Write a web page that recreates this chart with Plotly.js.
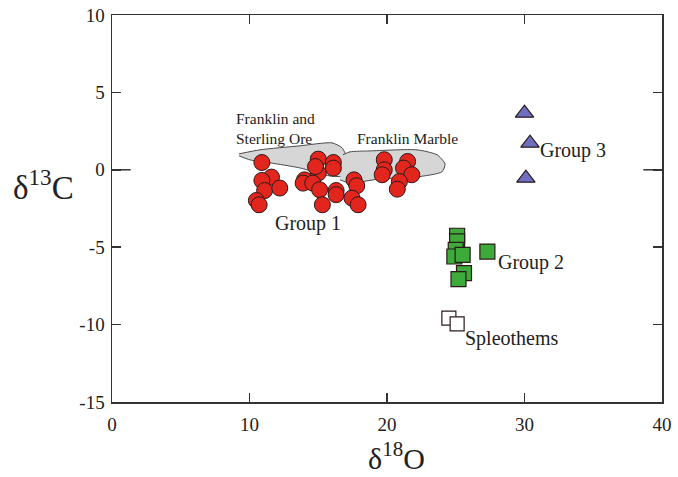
<!DOCTYPE html>
<html>
<head>
<meta charset="utf-8">
<script src="https://cdn.plot.ly/plotly-3.0.1.min.js"></script>
<style>
  html, body { margin: 0; padding: 0; background: #fff; }
  #chart { width: 678px; height: 477px; }
</style>
</head>
<body>
<div id="chart"></div>
<script>
// Group 1 carbonates (δ18O, δ13C)
const group1X = [10.9, 11.6, 10.9, 11.1, 12.2, 10.5, 10.7, 15.0, 16.1, 16.1, 15.0, 14.8, 14.0, 13.9, 14.6, 15.1, 16.3, 16.3, 15.3, 17.6, 17.8, 17.45, 17.9, 19.8, 19.8, 19.65, 21.5, 21.2, 21.8, 20.9, 20.75];
const group1Y = [0.47, -0.47, -0.69, -1.34, -1.18, -1.98, -2.26, 0.69, 0.47, 0.11, -0.21, 0.21, -0.65, -0.86, -0.86, -1.29, -1.34, -1.61, -2.26, -0.65, -1.03, -1.83, -2.26, 0.65, 0.0, -0.32, 0.54, 0.11, -0.32, -0.76, -1.25];

// Group 2
const group2X = [25.1, 25.1, 25.0, 24.9, 25.5, 27.3, 25.6, 25.2];
const group2Y = [-4.26, -4.63, -5.17, -5.6, -5.49, -5.28, -6.67, -7.06];

// Group 3
const group3X = [30.0, 30.4, 30.1];
const group3Y = [3.66, 1.72, -0.54];

// Speleothems
const spelX = [24.5, 25.1];
const spelY = [-9.58, -9.95];

// Reference fields
const oreX = [9.24, 10.76, 13.67, 16.0, 16.73, 17.16, 17.31, 16.95, 15.85, 13.67, 11.49, 10.04, 9.24];
const oreY = [1.03, 1.29, 1.55, 1.74, 1.42, 0.64, 0.12, -0.40, -0.40, 0.12, 0.45, 0.64, 0.90];
const marbleX = [16.8, 17.31, 18.76, 22.18, 23.64, 24.22, 24.0, 22.18, 19.49, 17.31, 16.58];
const marbleY = [0.97, 1.16, 1.22, 1.29, 0.97, 0.38, -0.13, -0.46, -0.59, -0.85, -0.65];

const xTicks = [0, 10, 20, 30, 40];
const yTicks = [-15, -10, -5, 0, 5, 10];

const serif = "'Liberation Serif', 'DejaVu Serif', serif";
const ink = '#222';
const edge = '#2a1a1a';

const field = (x, y) => ({
  x, y, type: 'scatter', mode: 'lines', fill: 'toself',
  fillcolor: '#d6d6d6', line: { color: '#4a4a4a', width: 1, shape: 'spline', smoothing: 0.6 },
  hoverinfo: 'skip', showlegend: false
});

const traces = [
  field(oreX, oreY),
  field(marbleX, marbleY),
  {
    x: group1X, y: group1Y, type: 'scatter', mode: 'markers', name: 'Group 1',
    marker: { symbol: 'circle', size: 16, color: '#e3261d', line: { color: edge, width: 1 } }
  },
  {
    x: group2X, y: group2Y, type: 'scatter', mode: 'markers', name: 'Group 2',
    marker: { symbol: 'square', size: 15, color: '#3daa3a', line: { color: edge, width: 1.2 } }
  },
  {
    x: group3X, y: group3Y, type: 'scatter', mode: 'markers', name: 'Group 3',
    marker: { symbol: 'triangle-up', size: 16, color: '#6f6fbf', line: { color: edge, width: 1.2 } }
  },
  {
    x: spelX, y: spelY, type: 'scatter', mode: 'markers', name: 'Spleothems',
    marker: { symbol: 'square', size: 14, color: '#ffffff', line: { color: edge, width: 1.2 } }
  }
];

const label = (text, x, y, size) => ({
  text, x, y, xref: 'x', yref: 'y', xanchor: 'left', yanchor: 'middle',
  showarrow: false, align: 'left', font: { family: serif, size, color: ink }
});

const axisCommon = {
  showline: true, linecolor: '#333', linewidth: 1.5, mirror: 'ticks',
  ticks: 'inside', ticklen: 9, tickwidth: 1.5, tickcolor: '#333',
  showgrid: false, zeroline: false,
  tickfont: { family: serif, size: 19, color: ink }
};

const layout = {
  width: 678, height: 477,
  margin: { l: 112, r: 16, t: 15, b: 75 },
  paper_bgcolor: '#fff', plot_bgcolor: '#fff',
  showlegend: false,
  xaxis: Object.assign({}, axisCommon, {
    range: [0, 40], tickvals: xTicks, ticktext: xTicks.map(String), ticklabelstandoff: 5
  }),
  yaxis: Object.assign({}, axisCommon, {
    range: [-15, 10], tickvals: yTicks, ticktext: yTicks.map(String), ticklabelstandoff: 2
  }),
  shapes: [
    // longer tick marks at δ13C = 0 on both sides
    { type: 'line', xref: 'paper', yref: 'y', x0: 0, x1: 0.034, y0: 0, y1: 0, line: { color: '#333', width: 1.5 } },
    { type: 'line', xref: 'paper', yref: 'y', x0: 0.966, x1: 1, y0: 0, y1: 0, line: { color: '#333', width: 1.5 } }
  ],
  annotations: [
    label('Franklin and<br>Sterling Ore', 8.9, 2.7, 15.5),
    label('Franklin Marble', 17.7, 2.0, 15.5),
    label('Group 1', 11.7, -3.5, 20),
    label('Group 2', 27.9, -5.96, 20),
    label('Group 3', 31.0, 1.22, 20),
    label('Spleothems', 25.5, -10.9, 20),
    // axis titles, both set horizontally
    { text: 'δ<sup>18</sup>O', xref: 'paper', yref: 'paper', x: 0.518, y: -0.14,
      xanchor: 'center', yanchor: 'middle', showarrow: false,
      font: { family: serif, size: 30, color: ink } },
    { text: 'δ<sup>13</sup>C', xref: 'paper', yref: 'paper', x: -0.124, y: 0.561,
      xanchor: 'center', yanchor: 'middle', showarrow: false,
      font: { family: serif, size: 33, color: ink } }
  ]
};

Plotly.newPlot('chart', traces, layout, { displayModeBar: false, staticPlot: true });
</script>
</body>
</html>
